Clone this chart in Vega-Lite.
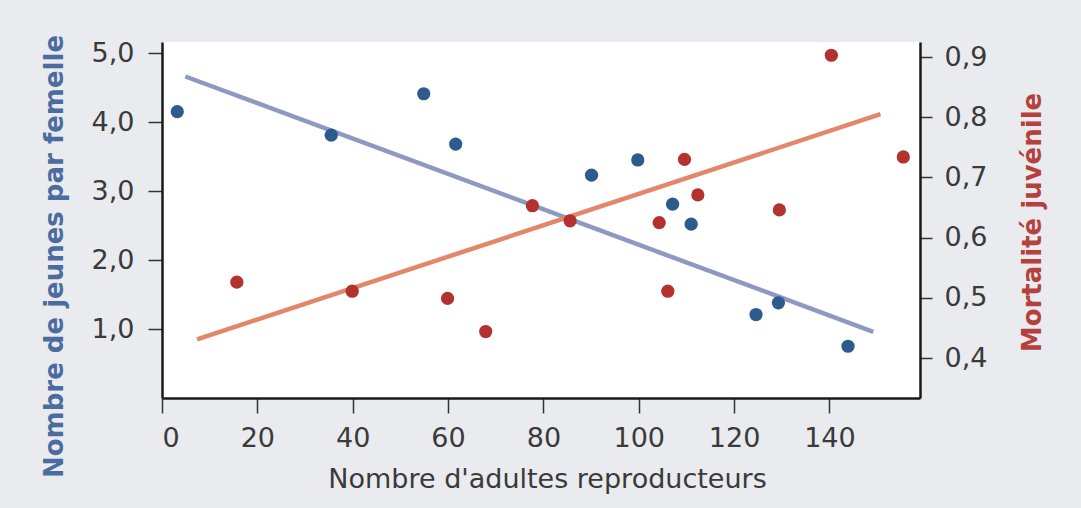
{
  "$schema": "https://vega.github.io/schema/vega-lite/v6.json",
  "width": 758,
  "height": 356,
  "autosize": "none",
  "padding": {"left": 162, "top": 42, "right": 161, "bottom": 110},
  "background": "#e9ebee",
  "config": {
    "view": {"fill": "white", "stroke": null},
    "font": "DejaVu Sans",
    "axis": {
      "grid": false,
      "domainColor": "#1a1a1a",
      "domainWidth": 2.5,
      "tickColor": "#333333",
      "tickWidth": 1.5,
      "tickSize": 12,
      "labelFontSize": 27,
      "labelColor": "#3a3a3a",
      "labelFont": "DejaVu Sans",
      "titleFont": "DejaVu Sans",
      "titleFontSize": 26
    }
  },
  "datasets": {
    "jeunes": [
      {"adultes": 3.2, "jeunes": 4.15},
      {"adultes": 35.5, "jeunes": 3.81},
      {"adultes": 54.9, "jeunes": 4.41},
      {"adultes": 61.6, "jeunes": 3.68},
      {"adultes": 90.1, "jeunes": 3.23},
      {"adultes": 99.8, "jeunes": 3.45},
      {"adultes": 107.1, "jeunes": 2.81},
      {"adultes": 111.0, "jeunes": 2.52},
      {"adultes": 124.6, "jeunes": 1.21},
      {"adultes": 129.3, "jeunes": 1.38},
      {"adultes": 143.9, "jeunes": 0.75}
    ],
    "mortalite": [
      {"adultes": 15.7, "mortalite": 0.526},
      {"adultes": 39.9, "mortalite": 0.511},
      {"adultes": 59.9, "mortalite": 0.499},
      {"adultes": 67.9, "mortalite": 0.444},
      {"adultes": 77.7, "mortalite": 0.653},
      {"adultes": 85.6, "mortalite": 0.628},
      {"adultes": 104.3, "mortalite": 0.625},
      {"adultes": 106.1, "mortalite": 0.511},
      {"adultes": 109.6, "mortalite": 0.730},
      {"adultes": 112.4, "mortalite": 0.671},
      {"adultes": 129.5, "mortalite": 0.646},
      {"adultes": 140.4, "mortalite": 0.903},
      {"adultes": 155.5, "mortalite": 0.734}
    ],
    "fitJeunes": [
      {"adultes": 4.9, "jeunes": 4.66},
      {"adultes": 149.2, "jeunes": 0.96}
    ],
    "fitMortalite": [
      {"adultes": 7.35, "mortalite": 0.431},
      {"adultes": 150.7, "mortalite": 0.805}
    ]
  },
  "encoding": {
    "x": {
      "field": "adultes", "type": "quantitative",
      "scale": {"domain": [0, 159], "nice": false, "zero": false},
      "axis": {
        "values": [0, 20, 40, 60, 80, 100, 120, 140],
        "tickSize": 15,
        "labelPadding": 12,
        "title": "Nombre d'adultes reproducteurs",
        "titleColor": "#3a3a3a",
        "titleFontWeight": "normal",
        "titleFontSize": 27,
        "titleX": 385,
        "titleY": 89,
        "titleAlign": "center",
        "titleBaseline": "alphabetic"
      }
    }
  },
  "layer": [
    {
      "data": {"name": "fitJeunes"},
      "mark": {"type": "line", "color": "#8e99c2", "strokeWidth": 4.5},
      "encoding": {
        "y": {
          "field": "jeunes", "type": "quantitative",
          "scale": {"domain": [0, 5.16], "nice": false, "zero": false},
          "axis": {
            "orient": "left",
            "values": [1, 2, 3, 4, 5],
            "labelExpr": "replace(format(datum.value, '.1f'), '.', ',')",
            "tickSize": 14,
            "labelPadding": 14,
            "title": "Nombre de jeunes par femelle",
            "titleColor": "#4b6c9e",
            "titleFontWeight": "bold",
            "titleAngle": 270,
            "titleAlign": "center",
            "titleBaseline": "middle",
            "titleX": -108,
            "titleY": 214
          }
        }
      }
    },
    {
      "data": {"name": "fitMortalite"},
      "mark": {"type": "line", "color": "#e3866a", "strokeWidth": 4.5},
      "encoding": {
        "y": {
          "field": "mortalite", "type": "quantitative",
          "scale": {"domain": [0.3336, 0.925], "nice": false, "zero": false},
          "axis": {
            "orient": "right",
            "values": [0.4, 0.5, 0.6, 0.7, 0.8, 0.9],
            "labelExpr": "replace(format(datum.value, '.1f'), '.', ',')",
            "labelPadding": 12,
            "title": "Mortalité juvénile",
            "titleColor": "#b5413e",
            "titleFontWeight": "bold",
            "titleAngle": 270,
            "titleAlign": "center",
            "titleBaseline": "middle",
            "titleX": 112,
            "titleY": 180
          }
        }
      }
    },
    {
      "data": {"name": "jeunes"},
      "mark": {"type": "circle", "color": "#2d5b8e", "opacity": 1, "size": 175},
      "encoding": {
        "y": {"field": "jeunes", "type": "quantitative", "scale": {"domain": [0, 5.16], "nice": false, "zero": false}, "axis": null}
      }
    },
    {
      "data": {"name": "mortalite"},
      "mark": {"type": "circle", "color": "#b3312f", "opacity": 1, "size": 175},
      "encoding": {
        "y": {"field": "mortalite", "type": "quantitative", "scale": {"domain": [0.3336, 0.925], "nice": false, "zero": false}, "axis": null}
      }
    }
  ],
  "resolve": {"scale": {"y": "independent"}}
}
